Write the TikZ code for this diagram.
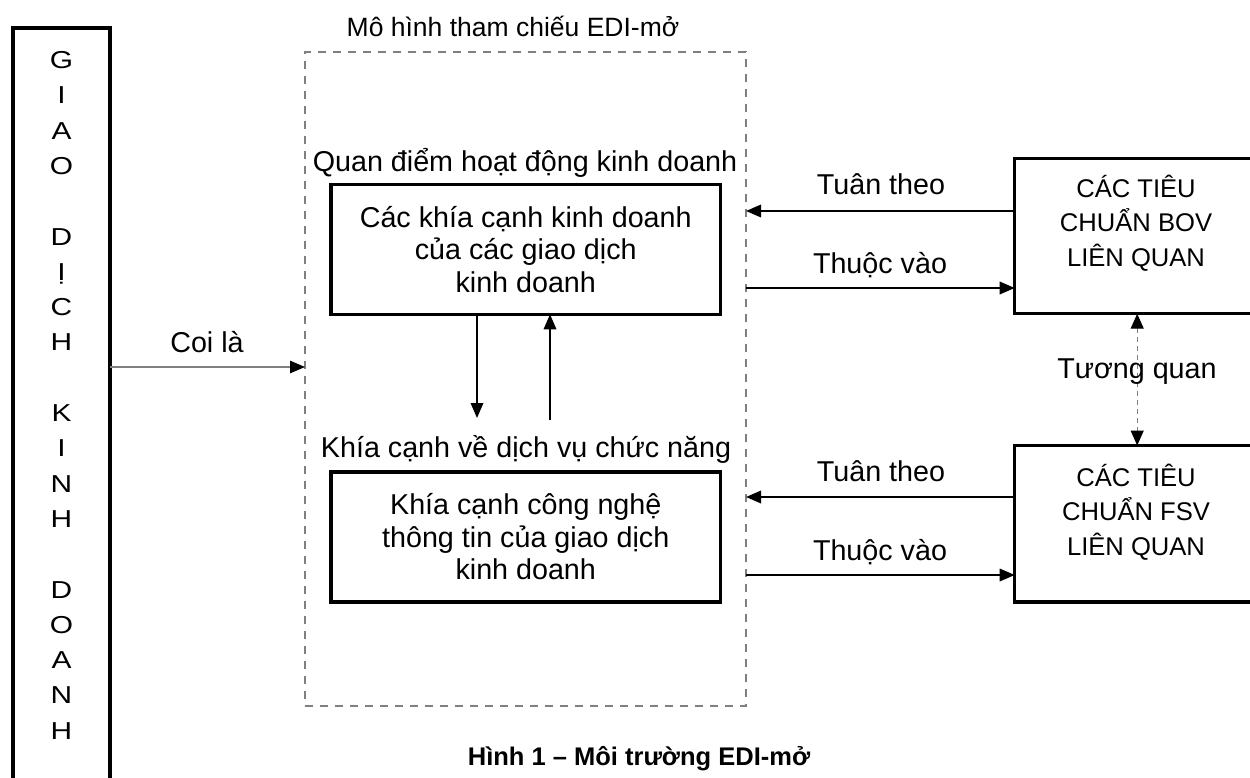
\documentclass[tikz,border=0pt]{standalone}
\usepackage{fontspec}
\setmainfont{Liberation Sans}
\newfontfamily\stretchedsans[FakeStretch=1.22]{Liberation Sans}
\usetikzlibrary{arrows.meta}

\tikzset{
  thickbox/.style={draw=black, line width=3.3pt, inner sep=0pt, outer sep=0pt},
  dashframe/.style={draw=black!50, line width=1.3pt, dash pattern=on 8pt off 7pt, inner sep=0pt, outer sep=0pt},
  lbl/.style={font=\fontsize{28.7}{32}\selectfont, inner sep=0pt, anchor=base},
  boxtxt/.style={font=\fontsize{28.7}{32.5}\selectfont, align=center},
  stdtxt/.style={font=\fontsize{25.6}{34.5}\selectfont, align=center, inner sep=0pt},
  vletter/.style={font=\stretchedsans\fontsize{24.5}{24.5}\selectfont, inner sep=0pt, anchor=base},
  flow/.style={line width=1.8pt, -{Triangle[length=15pt,width=12.5pt]}},
  greyflow/.style={line width=1.3pt, draw=black!50, -{Triangle[length=15pt,width=12.5pt,color=black]}},
  linkflow/.style={line width=1.3pt, draw=black!50, dash pattern=on 5pt off 4pt,
    {Triangle[length=15pt,width=13pt,color=black]}-{Triangle[length=15pt,width=13pt,color=black]}},
}

\begin{document}
\begin{tikzpicture}[x=1pt,y=-1pt]
\useasboundingbox (0,0) rectangle (1250,778);
\clip (0,0) rectangle (1250,778);

% business transaction column, letters set one per line
\node[thickbox, minimum width=97pt, minimum height=800pt, anchor=north west] (gdkd) at (13,28) {};
\foreach \i/\ch in {0/G,1/I,2/A,3/O,5/D,6/Ị,7/C,8/H,10/K,11/I,12/N,13/H,15/D,16/O,17/A,18/N,19/H}
  \node[vletter] (ltr\i) at (61.5,68.5+35.3*\i) {\ch};

% Open-edi reference model frame
\node[dashframe, minimum width=441pt, minimum height=654pt, anchor=north west] (edi) at (305,52) {};
\node[font=\fontsize{26.5}{30}\selectfont, inner sep=0pt, anchor=base] (editl) at (513,37) {Mô hình tham chiếu EDI-mở};

% business operational view
\node[lbl] (bovlbl) at (525,172) {Quan điểm hoạt động kinh doanh};
\node[thickbox, boxtxt, minimum width=389.5pt, minimum height=129.6pt] (busasp) at (525.75,249.5)
  {Các khía cạnh kinh doanh\\của các giao dịch\\kinh doanh};

% functional service view
\node[lbl] (fsvlbl) at (526,457) {Khía cạnh về dịch vụ chức năng};
\node[thickbox, boxtxt, minimum width=389.5pt, minimum height=130pt] (itasp) at (525.75,537)
  {Khía cạnh công nghệ\\thông tin của giao dịch\\kinh doanh};

% links between the two views
\coordinate (dn) at (477,418);
\coordinate (up) at (550,420);
\draw[flow] (busasp.south -| dn) -- (dn);
\draw[flow] (up) -- (up |- busasp.south);

% standards
\node[thickbox, minimum width=245pt, minimum height=155pt, anchor=north west] (bovstd) at (1014.7,158.7) {};
\node[stdtxt] (bovtxt) at (1136,223) {CÁC TIÊU\\CHUẨN BOV\\LIÊN QUAN};
\node[thickbox, minimum width=245pt, minimum height=156.5pt, anchor=north west] (fsvstd) at (1014.7,445.5) {};
\node[stdtxt] (fsvtxt) at (1136,512) {CÁC TIÊU\\CHUẨN FSV\\LIÊN QUAN};

\draw[linkflow] (bovstd.south) -- (fsvstd.north);
\node[lbl] (corr) at (1137,378) {Tương quan};

% compliance and membership arrows
\coordinate (r1) at (0,211);
\coordinate (r2) at (0,288);
\coordinate (r3) at (0,497);
\coordinate (r4) at (0,575);
\draw[flow] (bovstd.west |- r1) -- (edi.east |- r1);
\draw[flow] (edi.east |- r2) -- (bovstd.west |- r2);
\draw[flow] (fsvstd.west |- r3) -- (edi.east |- r3);
\draw[flow] (edi.east |- r4) -- (fsvstd.west |- r4);
\node[lbl] (comp1) at (881,195) {Tuân theo};
\node[lbl] (memb1) at (880,273) {Thuộc vào};
\node[lbl] (comp2) at (881,481) {Tuân theo};
\node[lbl] (memb2) at (880,560) {Thuộc vào};

% "regarded as"
\coordinate (r0) at (0,367);
\draw[greyflow] (gdkd.east |- r0) -- (edi.west |- r0);
\node[lbl] (coila) at (207,352) {Coi là};

% caption
\node[font=\bfseries\fontsize{25.5}{30}\selectfont, inner sep=0pt, anchor=base] (cap) at (639,765)
  {Hình 1 – Môi trường EDI-mở};
\end{tikzpicture}
\end{document}
